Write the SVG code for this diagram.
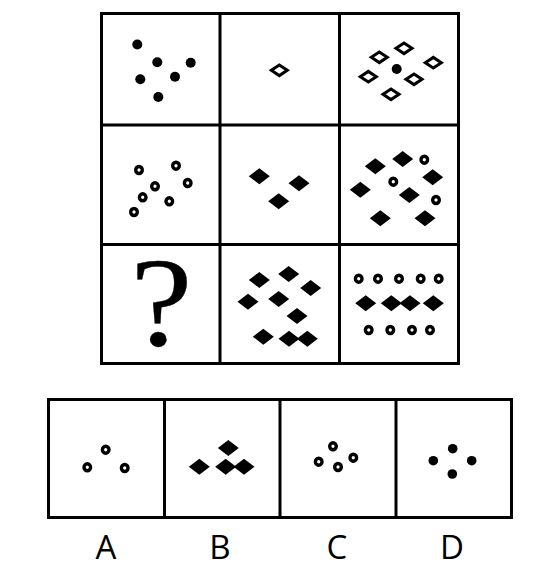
<svg xmlns="http://www.w3.org/2000/svg" xmlns:xlink="http://www.w3.org/1999/xlink" width="542" height="576" viewBox="0 0 542 576">
<style>
.frame{fill:none;stroke:#000;stroke-width:3}
.dot{fill:#000}
.lbl{font-family:"Open Sans","DejaVu Sans",sans-serif;font-size:33px;fill:#000;text-anchor:middle}
.q{font-family:"Liberation Serif","Times New Roman",serif;font-size:122px;fill:#000;stroke:#000;stroke-width:0.3;text-anchor:middle}
</style>
<defs>
<path id="fd" d="M-10.5,0 L0,-8 L10.5,0 L0,8 Z" fill="#000"/>
<path id="hd" d="M-8,0 L0,-5.3 L8,0 L0,5.3 Z" fill="none" stroke="#000" stroke-width="3" stroke-linejoin="miter"/>
<ellipse id="rg" rx="3.3" ry="3.5" fill="none" stroke="#000" stroke-width="3.4"/>
</defs>
<rect width="542" height="576" fill="#fff"/>
<g id="grid">
<rect class="frame" x="101.5" y="13.5" width="357" height="350"/>
<line class="frame" x1="220" y1="13.5" x2="220" y2="363.5"/>
<line class="frame" x1="339.5" y1="13.5" x2="339.5" y2="363.5"/>
<line class="frame" x1="101.5" y1="125" x2="458.5" y2="125"/>
<line class="frame" x1="101.5" y1="244.5" x2="458.5" y2="244.5"/>
</g>
<g id="cell1">
<circle class="dot" cx="137.3" cy="44.5" r="5"/>
<circle class="dot" cx="157.3" cy="62.3" r="5"/>
<circle class="dot" cx="190.7" cy="62.7" r="5"/>
<circle class="dot" cx="140.3" cy="79.3" r="5"/>
<circle class="dot" cx="175" cy="76.7" r="5"/>
<circle class="dot" cx="158.3" cy="97" r="5"/>
</g>
<g id="cell2">
<use xlink:href="#hd" x="279.3" y="70.3"/>
</g>
<g id="cell3">
<use xlink:href="#hd" x="379.3" y="57.3"/>
<use xlink:href="#hd" x="404" y="48.3"/>
<use xlink:href="#hd" x="433.3" y="62.7"/>
<use xlink:href="#hd" x="368.3" y="76.7"/>
<use xlink:href="#hd" x="414" y="79.3"/>
<use xlink:href="#hd" x="391" y="94.3"/>
<circle class="dot" cx="396.7" cy="69" r="5"/>
</g>
<g id="cell4">
<use xlink:href="#rg" x="139" y="170"/>
<use xlink:href="#rg" x="176" y="165.7"/>
<use xlink:href="#rg" x="155" y="186.3"/>
<use xlink:href="#rg" x="187.7" y="183"/>
<use xlink:href="#rg" x="142.7" y="197.3"/>
<use xlink:href="#rg" x="169.3" y="201.3"/>
<use xlink:href="#rg" x="134" y="212"/>
</g>
<g id="cell5">
<use xlink:href="#fd" x="259.3" y="176.3"/>
<use xlink:href="#fd" x="299" y="183.3"/>
<use xlink:href="#fd" x="278.7" y="201.3"/>
</g>
<g id="cell6">
<use xlink:href="#fd" x="375.3" y="166.3"/>
<use xlink:href="#fd" x="402.7" y="159"/>
<use xlink:href="#fd" x="432.7" y="177.3"/>
<use xlink:href="#fd" x="360.3" y="189.7"/>
<use xlink:href="#fd" x="409.3" y="195"/>
<use xlink:href="#fd" x="380.3" y="218.3"/>
<use xlink:href="#fd" x="425" y="218.3"/>
<use xlink:href="#rg" x="424.3" y="159.7"/>
<use xlink:href="#rg" x="393.3" y="181.7"/>
<use xlink:href="#rg" x="436" y="200"/>
</g>
<g id="cell7">
<text class="q" x="0" y="0" transform="translate(161.5,345) scale(1.15,1.05)">?</text>
</g>
<g id="cell8">
<use xlink:href="#fd" x="259.3" y="280"/>
<use xlink:href="#fd" x="288.7" y="274"/>
<use xlink:href="#fd" x="310.7" y="288"/>
<use xlink:href="#fd" x="248" y="301.7"/>
<use xlink:href="#fd" x="278.7" y="299"/>
<use xlink:href="#fd" x="297" y="316"/>
<use xlink:href="#fd" x="263.3" y="336.7"/>
<use xlink:href="#fd" x="289" y="338.7"/>
<use xlink:href="#fd" x="307.3" y="338.7"/>
</g>
<g id="cell9">
<use xlink:href="#rg" x="358.7" y="278.7"/>
<use xlink:href="#rg" x="378" y="278.7"/>
<use xlink:href="#rg" x="399" y="278.7"/>
<use xlink:href="#rg" x="420.7" y="278.7"/>
<use xlink:href="#rg" x="438.7" y="278.7"/>
<use xlink:href="#fd" x="365.7" y="303.3"/>
<use xlink:href="#fd" x="391.3" y="303.3"/>
<use xlink:href="#fd" x="410" y="303.3"/>
<use xlink:href="#fd" x="433.3" y="303.3"/>
<use xlink:href="#rg" x="368.7" y="330"/>
<use xlink:href="#rg" x="390.3" y="330"/>
<use xlink:href="#rg" x="412" y="330"/>
<use xlink:href="#rg" x="430" y="330"/>
</g>
<g id="options">
<rect class="frame" x="48.5" y="399.5" width="463" height="118"/>
<line class="frame" x1="164.5" y1="399.5" x2="164.5" y2="517.5"/>
<line class="frame" x1="280" y1="399.5" x2="280" y2="517.5"/>
<line class="frame" x1="396" y1="399.5" x2="396" y2="517.5"/>
</g>
<g id="optA">
<use xlink:href="#rg" x="105.7" y="449.7"/>
<use xlink:href="#rg" x="87.3" y="467.3"/>
<use xlink:href="#rg" x="124.7" y="468"/>
<text class="lbl" x="106" y="559">A</text>
</g>
<g id="optB">
<use xlink:href="#fd" x="228.3" y="448"/>
<use xlink:href="#fd" x="199.3" y="466.7"/>
<use xlink:href="#fd" x="225.7" y="466.7"/>
<use xlink:href="#fd" x="244" y="466.7"/>
<text class="lbl" x="220" y="559">B</text>
</g>
<g id="optC">
<use xlink:href="#rg" x="333" y="446.3"/>
<use xlink:href="#rg" x="353.3" y="457.7"/>
<use xlink:href="#rg" x="318.7" y="461.7"/>
<use xlink:href="#rg" x="338" y="467"/>
<text class="lbl" x="337" y="559">C</text>
</g>
<g id="optD">
<circle class="dot" cx="452.7" cy="448.7" r="4.8"/>
<circle class="dot" cx="433.3" cy="460.7" r="4.8"/>
<circle class="dot" cx="471.7" cy="460.7" r="4.8"/>
<circle class="dot" cx="452.3" cy="474" r="4.8"/>
<text class="lbl" x="452" y="559">D</text>
</g>
</svg>
